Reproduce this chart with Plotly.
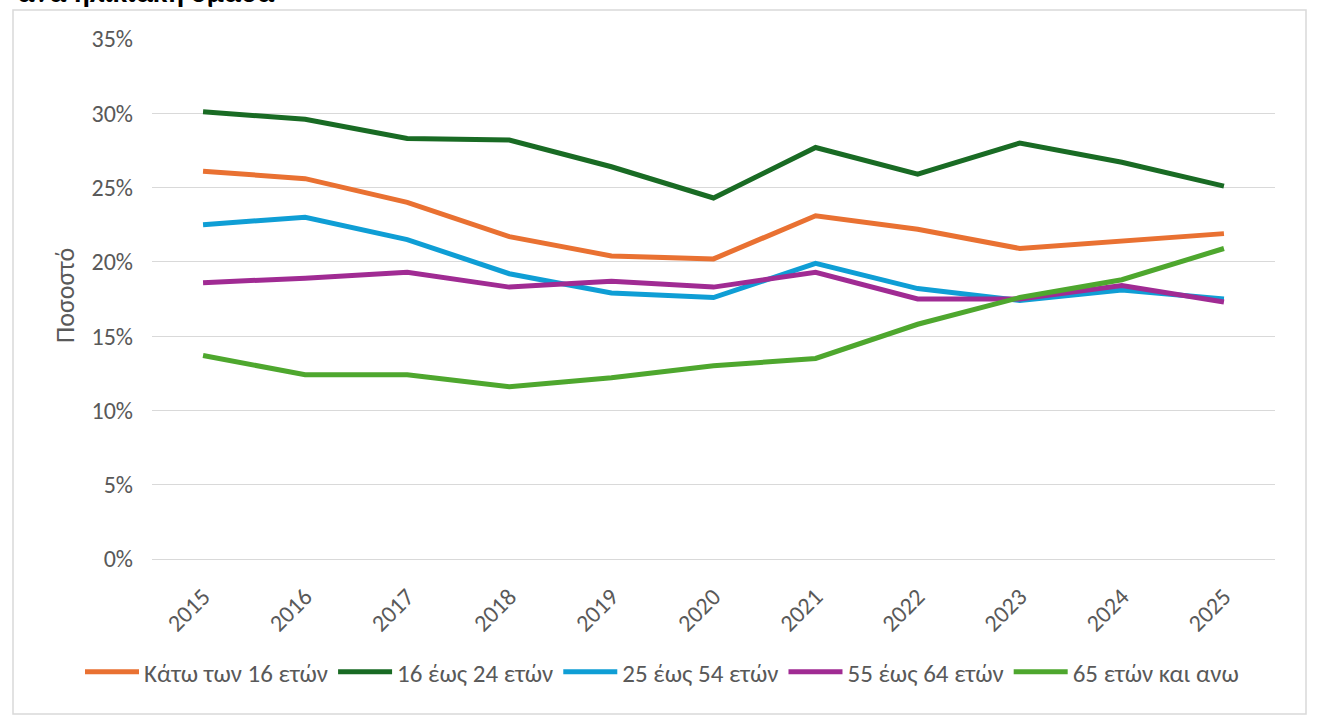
import plotly.graph_objects as go

years = ["2015", "2016", "2017", "2018", "2019", "2020", "2021", "2022", "2023", "2024", "2025"]
under16 = [26.1, 25.6, 24.0, 21.7, 20.4, 20.2, 23.1, 22.2, 20.9, 21.4, 21.9]
age16_24 = [30.1, 29.6, 28.3, 28.2, 26.4, 24.3, 27.7, 25.9, 28.0, 26.7, 25.1]
age25_54 = [22.5, 23.0, 21.5, 19.2, 17.9, 17.6, 19.9, 18.2, 17.4, 18.1, 17.5]
age55_64 = [18.6, 18.9, 19.3, 18.3, 18.7, 18.3, 19.3, 17.5, 17.5, 18.4, 17.3]
age65plus = [13.7, 12.4, 12.4, 11.6, 12.2, 13.0, 13.5, 15.8, 17.6, 18.8, 20.9]

series = [
    ("Κάτω των 16 ετών", under16, "#E97132"),
    ("16 έως 24 ετών", age16_24, "#196B24"),
    ("25 έως 54 ετών", age25_54, "#0F9ED5"),
    ("55 έως 64 ετών", age55_64, "#A02B93"),
    ("65 ετών και ανω", age65plus, "#4EA72E"),
]

FONT = "'Liberation Sans Narrow', 'Arial Narrow', Carlito, sans-serif"
TXT = "#595959"

fig = go.Figure()
for name, vals, col in series:
    fig.add_trace(go.Scatter(
        x=years, y=vals, name=name, mode="lines",
        line=dict(color=col, width=5),
        hoverinfo="skip",
    ))

W, H = 1320, 721
L, R, T, B = 152, 45, 39, 162
pw, ph = W - L - R, H - T - B

def px(x):
    return (x - L) / pw

def py(y):
    return (H - B - y) / ph

fig.update_layout(
    width=W, height=H,
    margin=dict(l=L, r=R, t=T, b=B, autoexpand=False),
    plot_bgcolor="white", paper_bgcolor="white",
    font=dict(family=FONT, size=24, color=TXT),
    showlegend=True,
    legend=dict(
        orientation="h", x=px(80), xanchor="left", y=py(672), yanchor="middle",
        font=dict(family=FONT, size=25, color=TXT),
        itemwidth=54, tracegroupgap=0,
    ),
    xaxis=dict(
        type="category", range=[-0.5, len(years) - 0.5],
        showgrid=False, zeroline=False, showline=False,
        tickangle=-45, ticks="", ticklabelstandoff=18,
        tickfont=dict(family=FONT, size=24, color=TXT),
    ),
    yaxis=dict(
        range=[0, 35], dtick=5, ticksuffix="%",
        showgrid=True, gridcolor="#D9D9D9", gridwidth=1,
        zeroline=True, zerolinecolor="#D9D9D9", zerolinewidth=1,
        showline=False, ticks="", ticklabelstandoff=18,
        tickfont=dict(family=FONT, size=24, color=TXT),
    ),
    shapes=[dict(
        type="rect", xref="paper", yref="paper",
        x0=px(13), x1=px(1306), y0=py(714), y1=py(10),
        line=dict(color="#D9D9D9", width=1.5), fillcolor="rgba(0,0,0,0)", layer="below",
    )],
    annotations=[
        dict(text="Ποσοστό", xref="paper", yref="paper", x=px(65), y=py(296),
             xanchor="center", yanchor="middle", textangle=-90, showarrow=False,
             font=dict(family=FONT, size=26, color=TXT)),
        dict(text="<b>ανά ηλικιακή ομάδα</b>", xref="paper", yref="paper", x=px(15), y=py(-9),
             xanchor="left", yanchor="middle", showarrow=False,
             font=dict(family=FONT, size=30, color="#000000")),
    ],
)

fig.write_html("out.html")
